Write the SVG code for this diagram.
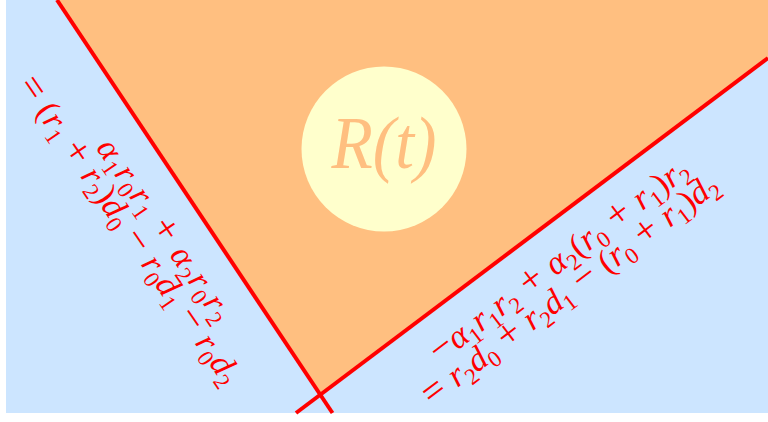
<svg xmlns="http://www.w3.org/2000/svg" width="768" height="422" viewBox="0 0 768 422">
<style>
.m{font-family:"Liberation Serif","Times New Roman",serif;fill:#ff0000;font-size:34px}
.i{font-style:italic}
.s{font-size:23px;font-style:normal}
.o{font-size:39px}
.ln{stroke:#ff0000;stroke-width:4;fill:none}
</style>
<rect x="0" y="0" width="768" height="422" fill="#ffffff"/>
<g id="background"><rect x="6" y="0" width="762" height="413" fill="#cce5ff"/></g>
<g id="region"><polygon points="57,0 768,0 768,58 320.7,394.8" fill="#ffbf80"/></g>
<g id="connectors">
<line class="ln" x1="57" y1="0" x2="332.5" y2="413"/>
<line class="ln" x1="296" y1="413" x2="768" y2="58"/>
</g>
<g id="node-R">
<circle cx="384" cy="149" r="82.5" fill="#ffffcc"/>
<text x="384" y="168" text-anchor="middle" font-family="Liberation Serif, serif" font-style="italic" font-size="74" fill="#ffbf80" textLength="105" lengthAdjust="spacingAndGlyphs">R(t)</text>
</g>
<g id="label-left" transform="rotate(55.5)">
<text class="m" x="283" y="5" text-anchor="middle" textLength="214" lengthAdjust="spacing"><tspan class="i">α</tspan><tspan class="s" dy="7">1</tspan><tspan class="i" dy="-7">r</tspan><tspan class="s" dy="7">0</tspan><tspan class="i" dy="-7">r</tspan><tspan class="s" dy="7">1</tspan><tspan class="o" dy="-7"> + </tspan><tspan class="i">α</tspan><tspan class="s" dy="7">2</tspan><tspan class="i" dy="-7">r</tspan><tspan class="s" dy="7">0</tspan><tspan class="i" dy="-7">r</tspan><tspan class="s" dy="7">2</tspan></text>
<text class="m" x="263" y="34" text-anchor="middle" textLength="366" lengthAdjust="spacing"><tspan class="o">= </tspan>(<tspan class="i">r</tspan><tspan class="s" dy="7">1</tspan><tspan class="o" dy="-7"> + </tspan><tspan class="i">r</tspan><tspan class="s" dy="7">2</tspan><tspan dy="-7">)</tspan><tspan class="i">d</tspan><tspan class="s" dy="7">0</tspan><tspan class="o" dy="-7"> − </tspan><tspan class="i">r</tspan><tspan class="s" dy="7">0</tspan><tspan class="i" dy="-7">d</tspan><tspan class="s" dy="7">1</tspan><tspan class="o" dy="-7"> − </tspan><tspan class="i">r</tspan><tspan class="s" dy="7">0</tspan><tspan class="i" dy="-7">d</tspan><tspan class="s" dy="7">2</tspan></text>
</g>
<g id="label-right" transform="rotate(-37)">
<text class="m" x="290" y="555" text-anchor="middle" textLength="316" lengthAdjust="spacing"><tspan class="o">−</tspan><tspan class="i">α</tspan><tspan class="s" dy="7">1</tspan><tspan class="i" dy="-7">r</tspan><tspan class="s" dy="7">1</tspan><tspan class="i" dy="-7">r</tspan><tspan class="s" dy="7">2</tspan><tspan class="o" dy="-7"> + </tspan><tspan class="i">α</tspan><tspan class="s" dy="7">2</tspan><tspan dy="-7">(</tspan><tspan class="i">r</tspan><tspan class="s" dy="7">0</tspan><tspan class="o" dy="-7"> + </tspan><tspan class="i">r</tspan><tspan class="s" dy="7">1</tspan><tspan dy="-7">)</tspan><tspan class="i">r</tspan><tspan class="s" dy="7">2</tspan></text>
<text class="m" x="281" y="585" text-anchor="middle" textLength="362" lengthAdjust="spacing"><tspan class="o">= </tspan><tspan class="i">r</tspan><tspan class="s" dy="7">2</tspan><tspan class="i" dy="-7">d</tspan><tspan class="s" dy="7">0</tspan><tspan class="o" dy="-7"> + </tspan><tspan class="i">r</tspan><tspan class="s" dy="7">2</tspan><tspan class="i" dy="-7">d</tspan><tspan class="s" dy="7">1</tspan><tspan class="o" dy="-7"> − </tspan><tspan>(</tspan><tspan class="i">r</tspan><tspan class="s" dy="7">0</tspan><tspan class="o" dy="-7"> + </tspan><tspan class="i">r</tspan><tspan class="s" dy="7">1</tspan><tspan dy="-7">)</tspan><tspan class="i">d</tspan><tspan class="s" dy="7">2</tspan></text>
</g>
</svg>
